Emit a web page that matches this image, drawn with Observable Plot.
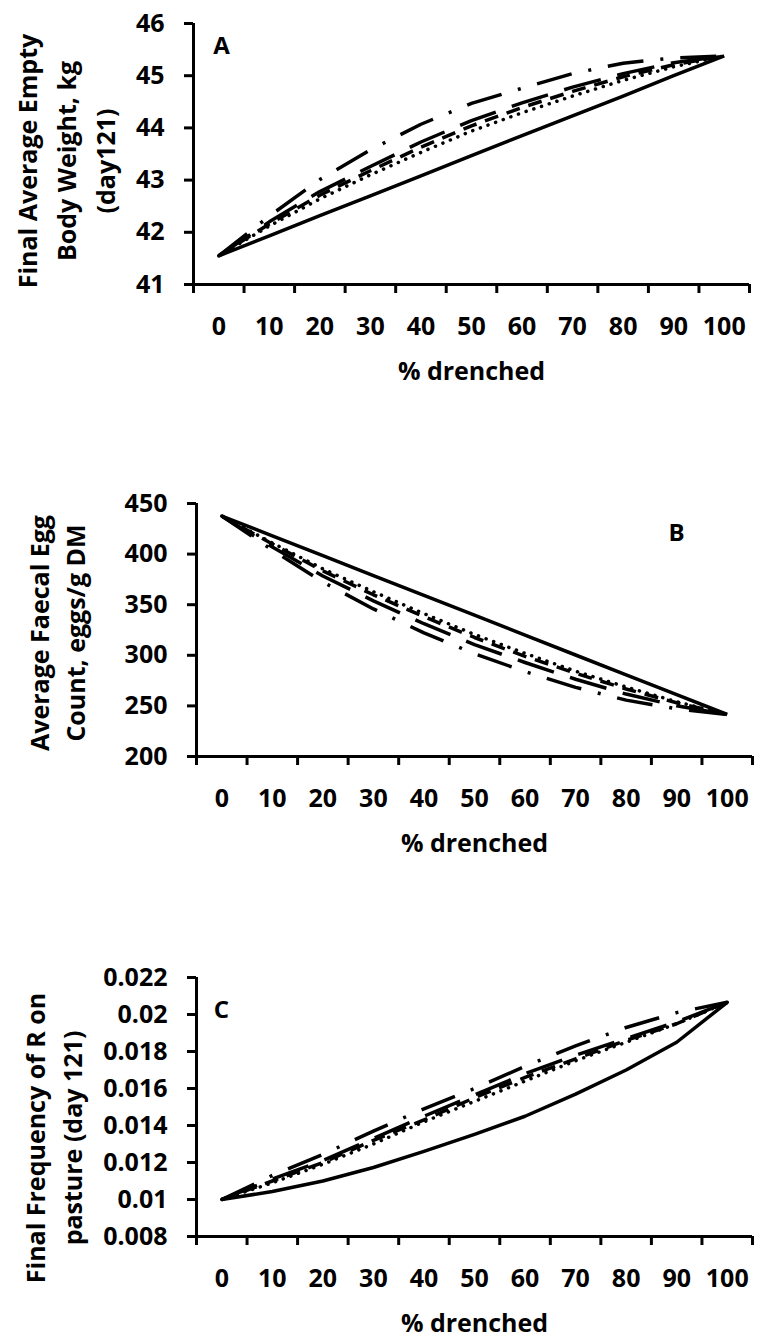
<!DOCTYPE html>
<html><head><meta charset="utf-8">
<script src="https://cdn.jsdelivr.net/npm/d3@7"></script>
<script src="https://cdn.jsdelivr.net/npm/@observablehq/plot@0.6"></script>
<style>
body{margin:0;background:#fff;}
#wrap{position:relative;width:761px;height:1338px;overflow:hidden;}
#wrap svg{position:absolute;left:0;}
</style></head><body><div id="wrap"></div>
<script>
// ---- data ----
const pctDrenched = [0,10,20,30,40,50,60,70,80,90,100];
const xCategoryBounds = [-5,5,15,25,35,45,55,65,75,85,95,105];

// Panel A: Final Average Empty Body Weight, kg (day121)
const A_solid     = [41.55,41.93,42.32,42.70,43.08,43.47,43.85,44.23,44.61,45.00,45.38];
const A_lgDashDot = [41.55,42.31,43.01,43.58,44.07,44.47,44.76,45.04,45.24,45.34,45.38];
const A_lgDash    = [41.55,42.20,42.78,43.26,43.73,44.14,44.48,44.78,45.04,45.25,45.38];
const A_dash      = [41.55,42.16,42.71,43.18,43.63,44.04,44.39,44.70,44.98,45.21,45.38];
const A_dot       = [41.55,42.12,42.64,43.10,43.53,43.94,44.29,44.61,44.91,45.17,45.38];
const yTicksA = [41,42,43,44,45,46];

// Panel B: Average Faecal Egg Count, eggs/g DM
const B_solid     = [437.6,418.0,398.4,378.8,359.2,339.6,319.9,300.3,280.7,261.1,241.5];
const B_lgDashDot = [437.6,404.0,372.4,345.8,322.2,301.6,283.9,268.3,255.7,247.1,241.5];
const B_lgDash    = [437.6,407.0,378.4,353.8,331.2,310.6,292.9,276.3,261.7,250.1,241.5];
const B_dash      = [437.6,410.0,383.4,359.8,338.2,317.6,298.9,282.3,266.7,253.1,241.5];
const B_dot       = [437.6,411.0,385.4,362.8,341.2,320.6,301.9,284.3,268.7,254.1,241.5];
const yTicksB = [200,250,300,350,400,450];

// Panel C: Final Frequency of R on pasture (day 121)
const C_solid     = [0.0100,0.01043,0.0110,0.01173,0.0126,0.01352,0.0145,0.0157,0.0170,0.0185,0.02066];
const C_lgDashDot = [0.0100,0.0113,0.01244,0.0137,0.0149,0.0160,0.0172,0.0183,0.0193,0.0201,0.02066];
const C_lgDash    = [0.0100,0.0111,0.0121,0.0133,0.0145,0.01565,0.0168,0.0178,0.0187,0.0196,0.02066];
const C_dash      = [0.0100,0.0110,0.0120,0.0132,0.0143,0.0155,0.0166,0.0176,0.0186,0.0195,0.02066];
const C_dot       = [0.0100,0.0109,0.0119,0.0130,0.0142,0.0153,0.0164,0.0175,0.0185,0.0195,0.02066];
const yTicksC = [0.008,0.010,0.012,0.014,0.016,0.018,0.020,0.022];

const xTitle = "% drenched";
const titleA = "Final Average Empty\nBody Weight, kg\n(day121)";
const titleB = "Average Faecal Egg\nCount, eggs/g DM";
const titleC = "Final Frequency of R on\npasture (day 121)";
const letters = ["A","B","C"];

// ---- styles ----
const lineStyles = {
  solid:     {strokeDasharray: null, strokeLinecap: "butt"},
  lgDashDot: {strokeDasharray: "36,17,3,17", strokeLinecap: "butt"},
  lgDash:    {strokeDasharray: "38,17", strokeLinecap: "butt"},
  dash:      {strokeDasharray: "14,9", strokeLinecap: "butt"},
  dot:       {strokeDasharray: "0.1,8", strokeLinecap: "round"}
};

const FONT = "'Open Sans', 'DejaVu Sans', sans-serif";

function panel(cfg) {
  const series = cfg.series;
  const lineMarks = Object.keys(series).map(k => {
    const rows = pctDrenched.map((p, i) => ({pct: p, v: series[k][i]}));
    const st = lineStyles[k];
    const o = {x: "pct", y: "v", stroke: "black", strokeWidth: 3.5, strokeLinejoin: "round", strokeLinecap: st.strokeLinecap};
    if (st.strokeDasharray) o.strokeDasharray = st.strokeDasharray;
    return Plot.line(rows, o);
  });
  const yDom = [cfg.yTicks[0], cfg.yTicks[cfg.yTicks.length - 1]];
  return Plot.plot({
    width: 761,
    height: cfg.height,
    marginTop: cfg.mTop,
    marginBottom: cfg.mBottom,
    marginLeft: cfg.mLeft,
    marginRight: cfg.mRight,
    style: {fontFamily: FONT, fontSize: "25px", fontWeight: "bold", color: "black", background: "white", overflow: "visible"},
    x: {domain: [-5, 105], axis: null},
    y: {domain: yDom, axis: null},
    marks: [
      ...lineMarks,
      Plot.ruleY([yDom[0]], {stroke: "black", strokeWidth: 3}),
      Plot.ruleX([-5], {stroke: "black", strokeWidth: 3}),
      Plot.axisY({ticks: cfg.yTicks, tickSize: 9, tickPadding: 20, strokeWidth: 3, label: null,
        tickFormat: cfg.yFmt, fontSize: 25, fontWeight: "bold"}),
      Plot.axisX({ticks: xCategoryBounds, tickSize: 9, strokeWidth: 3, fill: "none", label: null}),
      Plot.axisX({ticks: pctDrenched, tickSize: 0, tickPadding: 33, label: null, tickFormat: d => String(d),
        fontSize: 25, fontWeight: "bold"}),
      Plot.text([xTitle], {text: d => d, frameAnchor: "bottom", dy: 78, lineAnchor: "top",
        fontSize: 25, fontWeight: "bold"}),
      Plot.text([cfg.title], {text: d => d, frameAnchor: "left", rotate: -90, dx: cfg.titleDx, dy: cfg.titleDy,
        lineAnchor: "middle", textAnchor: "middle", lineHeight: cfg.titleLH, fontSize: 25, fontWeight: "bold"}),
      Plot.text([cfg.letter], {text: d => d, frameAnchor: cfg.letterAnchor, dx: cfg.letterDx, dy: cfg.letterDy,
        lineAnchor: "middle", textAnchor: "middle", fontSize: 24, fontWeight: "bold"})
    ]
  });
}

const fmtGeneral = d => String(+d.toFixed(4));

const panels = [
  {top: 0, height: 400, mTop: 23, mBottom: 116, mLeft: 193, mRight: 12, yTicks: yTicksA, yFmt: fmtGeneral,
   series: {solid: A_solid, lgDashDot: A_lgDashDot, lgDash: A_lgDash, dash: A_dash, dot: A_dot},
   title: titleA, titleDx: -130, titleDy: 7, titleLH: 1.55,
   letter: letters[0], letterAnchor: "top-left", letterDx: 28, letterDy: 23},
  {top: 470, height: 400, mTop: 33, mBottom: 114, mLeft: 196, mRight: 9, yTicks: yTicksB, yFmt: fmtGeneral,
   series: {solid: B_solid, lgDashDot: B_lgDashDot, lgDash: B_lgDash, dash: B_dash, dot: B_dot},
   title: titleB, titleDx: -141, titleDy: 3, titleLH: 1.44,
   letter: letters[1], letterAnchor: "top-right", letterDx: -76, letterDy: 30},
  {top: 940, height: 398, mTop: 37, mBottom: 102, mLeft: 196, mRight: 9, yTicks: yTicksC, yFmt: fmtGeneral,
   series: {solid: C_solid, lgDashDot: C_lgDashDot, lgDash: C_lgDash, dash: C_dash, dot: C_dot},
   title: titleC, titleDx: -145, titleDy: 31, titleLH: 1.48,
   letter: letters[2], letterAnchor: "top-left", letterDx: 25, letterDy: 33}
];

const wrap = document.getElementById("wrap");
for (const p of panels) {
  const svg = panel(p);
  svg.style.top = p.top + "px";
  wrap.appendChild(svg);
}
</script></body></html>
